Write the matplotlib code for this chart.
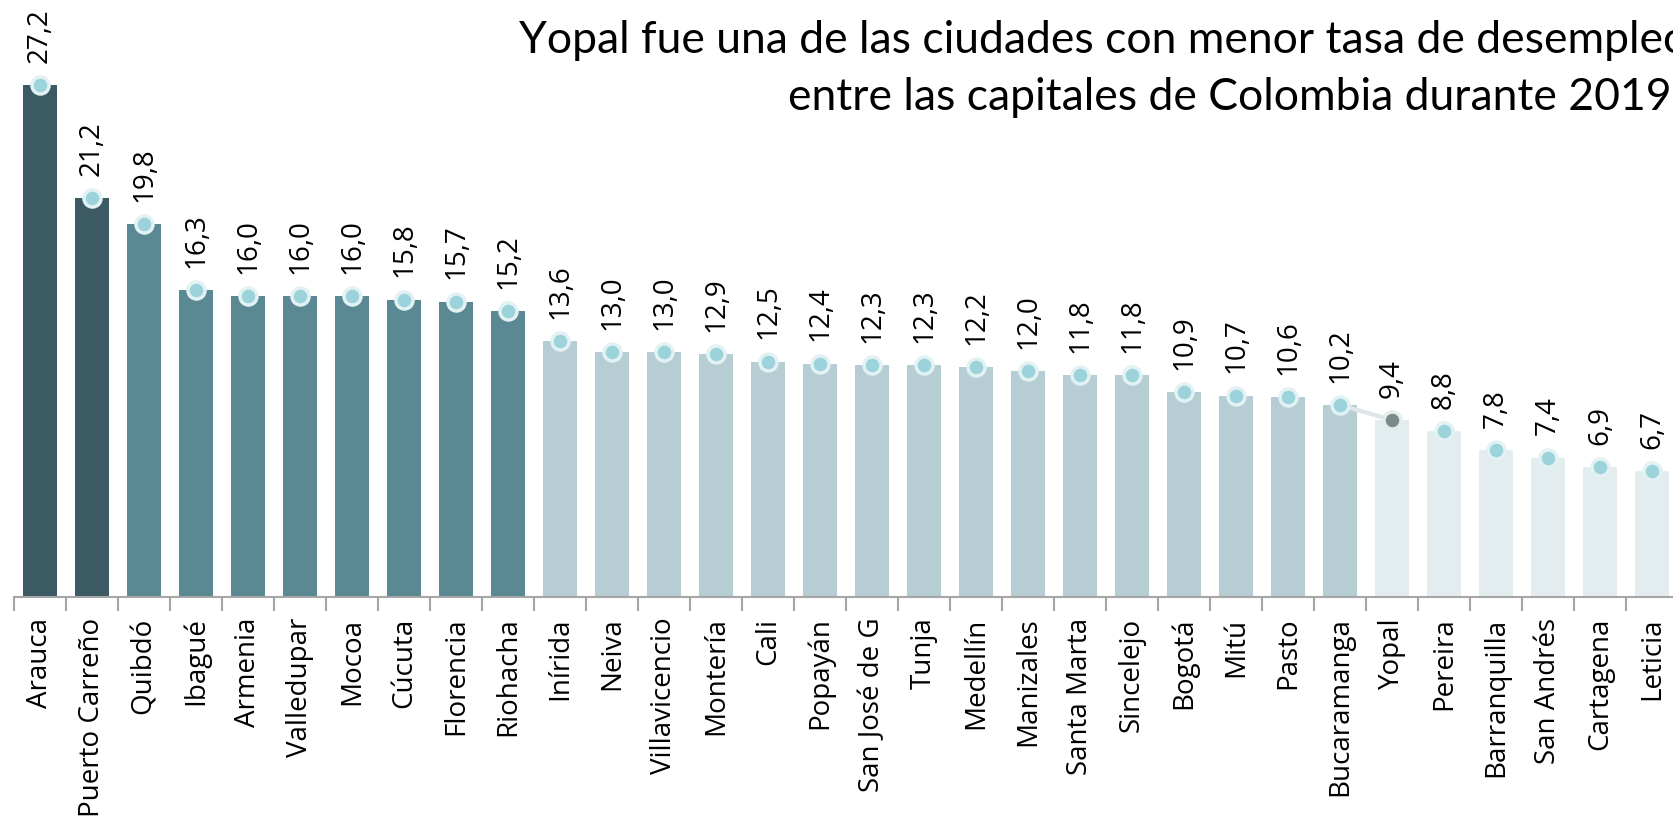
import matplotlib
matplotlib.use("Agg")
import matplotlib.pyplot as plt
import numpy as np

# tasa de desempleo 2019 por ciudad capital
ciudades = ["Arauca", "Puerto Carreño", "Quibdó", "Ibagué", "Armenia", "Valledupar",
            "Mocoa", "Cúcuta", "Florencia", "Riohacha", "Inírida", "Neiva",
            "Villavicencio", "Montería", "Cali", "Popayán", "San José de G", "Tunja",
            "Medellín", "Manizales", "Santa Marta", "Sincelejo", "Bogotá", "Mitú",
            "Pasto", "Bucaramanga", "Yopal", "Pereira", "Barranquilla", "San Andrés",
            "Cartagena", "Leticia"]
tasa = [27.2, 21.2, 19.8, 16.3, 16.0, 16.0, 16.0, 15.8, 15.7, 15.2, 13.6, 13.0,
        13.0, 12.9, 12.5, 12.4, 12.3, 12.3, 12.2, 12.0, 11.8, 11.8, 10.9, 10.7,
        10.6, 10.2, 9.4, 8.8, 7.8, 7.4, 6.9, 6.7]
# grupo de color de cada barra (0 = más alto)
grupo = [0, 0, 1, 1, 1, 1, 1, 1, 1, 1, 2, 2, 2, 2, 2, 2, 2, 2, 2, 2, 2, 2, 2, 2,
         2, 2, 3, 3, 3, 3, 3, 3]
resaltada = "Yopal"
titulo = ["Yopal fue una de las ciudades con menor tasa de desempleo",
          "entre las capitales de Colombia durante 2019"]

colores = ["#3c5a63", "#5a8893", "#b5cdd3", "#e3ecee"]

fig = plt.figure(figsize=(16.73, 8.25), dpi=100)
ax = fig.add_axes([14 / 1673, 228.3 / 825, 32 * 52 / 1673, 596.7 / 825])

x = np.arange(len(ciudades))
ax.bar(x, tasa, width=0.67, color=[colores[g] for g in grupo], zorder=1)

iy = ciudades.index(resaltada)
ax.plot(x[iy - 1:iy + 1], tasa[iy - 1:iy + 1], color="#dfe5e7", lw=3, zorder=2,
        solid_capstyle="round")
otros = [i for i in x if i != iy]
ax.scatter(otros, [tasa[i] for i in otros], s=150, color="#9cd3da",
           edgecolor="#e2f1f3", linewidth=2.5, zorder=3)
ax.scatter([iy], [tasa[iy]], s=150, color="#7b8a8b", edgecolor="#e6eced",
           linewidth=2.5, zorder=3)

for xi, v in zip(x, tasa):
    ax.annotate(f"{v:.1f}".replace(".", ","), (xi, v), xytext=(0, 16),
                textcoords="offset points", rotation=90, ha="center", va="bottom",
                fontsize=20, family="Open Sans", color="black")

ax.set_xlim(-0.5, len(ciudades) - 0.5)
ax.set_ylim(0, 31.74)
ax.set_xticks(x)
ax.set_xticklabels(ciudades, rotation=90, fontsize=20, family="Open Sans")
ax.set_xticks(np.arange(len(ciudades)) - 0.5, minor=True)
ax.tick_params(axis="x", which="major", length=0, pad=15)
ax.tick_params(axis="x", which="minor", length=10, width=1.5, color="#a6a6a6")
ax.set_yticks([])
for s in ["top", "left", "right"]:
    ax.spines[s].set_visible(False)
ax.spines["bottom"].set_color("#a6a6a6")
ax.spines["bottom"].set_linewidth(1.5)

# titulo: la primera linea se sale del borde derecho, como en el original
fig.text(519 / 1673, 1 - 53 / 825, titulo[0], ha="left", va="baseline",
         fontsize=32, family="Lato")
fig.text(1671 / 1673, 1 - 110 / 825, titulo[1], ha="right", va="baseline",
         fontsize=32, family="Lato")

fig.savefig("out.png", dpi=100)
